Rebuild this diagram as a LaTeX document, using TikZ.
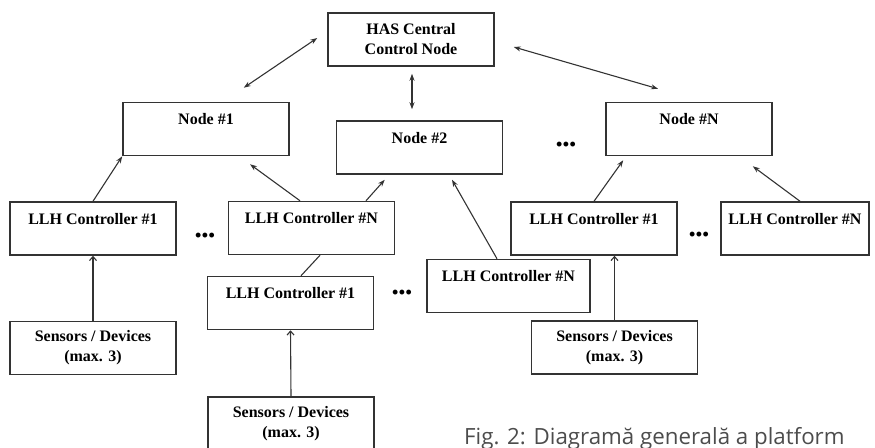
\documentclass[tikz,border=0pt]{standalone}
\usepackage{fontspec}
\setmainfont{Liberation Serif}
\newfontfamily\capfont{Open Sans}
\usetikzlibrary{arrows.meta}
\usetikzlibrary{calc}

\begin{document}
\begin{tikzpicture}%
	[x=1pt,y=-1pt,
	box/.style={draw=black!80,line width=1.5pt,minimum width=166pt,minimum height=53pt,inner sep=0pt,align=center,font=\bfseries\fontsize{16}{20}\selectfont},
	toptext/.style={text height=11pt,text depth=20pt,inner ysep=11pt},
	link/.style={draw=black!80,line width=1.1pt},
	twoway/.style={link,{Stealth[length=7pt,width=5pt]}-{Stealth[length=7pt,width=5pt]}},
	oneway/.style={link,-{Stealth[length=7pt,width=5pt]}},
	barb/.style={link,-{Straight Barb[length=4pt,width=7pt]}},
	dots/.style={font=\bfseries\fontsize{18}{18}\selectfont,inner sep=0pt}]
%
\useasboundingbox (0,0) rectangle (875,447);
\clip (0,0) rectangle (875,447);
%%
%% Central node and nodes
%%
\node[box] (has) at (411,39.5) {HAS Central\\Control Node};
\node[box,toptext] (n1) at (206,129) {Node \#1};
\node[box,toptext] (n2) at (419.5,147.5) {Node \#2};
\node[box,toptext] (nN) at (689,129) {Node \#N};
%%
%% LLH controllers
%%
\node[box,toptext] (c1) at (93,228.5) {LLH Controller \#1};
\node[box,toptext] (cN) at (311.5,228) {LLH Controller \#N};
\node[box,toptext] (m1) at (290.5,303) {LLH Controller \#1};
\node[box,toptext,minimum width=163pt] (mN) at (508.5,286) {LLH Controller \#N};
\node[box,toptext] (r1) at (594,228.5) {LLH Controller \#1};
\node[box,toptext,minimum width=148pt] (rN) at (795,228.5) {LLH Controller \#N};
%%
%% Sensors
%%
\node[box] (s1) at (93,348) {Sensors / Devices\\(max. 3)};
\node[box] (s2) at (291,423.5) {Sensors / Devices\\(max. 3)};
\node[box] (s3) at (614.5,347.5) {Sensors / Devices\\(max. 3)};
%%
%% Dots
%%
\node[dots] (d1) at (205,237) {\textbullet\hspace{0.5pt}\textbullet\hspace{0.5pt}\textbullet};
\node[dots] (d2) at (402,294) {\textbullet\hspace{0.5pt}\textbullet\hspace{0.5pt}\textbullet};
\node[dots] (d3) at (566,146) {\textbullet\hspace{0.5pt}\textbullet\hspace{0.5pt}\textbullet};
\node[dots] (d4) at (699,236) {\textbullet\hspace{0.5pt}\textbullet\hspace{0.5pt}\textbullet};
%%
%% Caption
%%
\node[anchor=base west,inner sep=0pt,text=black!70,font=\capfont\fontsize{22.3}{26}\selectfont] (cap) at (464,444) {Fig. 2: Diagramă generală a platform};
%%
%% Links
%%
\draw[twoway] ($(n1.north east)+(-46,-14)$) -- ($(has.west)+(-10,-1.5)$);
\draw[twoway] ($(has.south)+(1,7)$) -- ($(n2.north)+(-7.5,-11)$);
\draw[twoway] ($(has.east)+(19,7.5)$) -- ($(nN.north)+(-31,-13)$);
\draw[oneway] (c1.north) -- (n1.south west);
\draw[oneway] ($(cN.north)+(-11.5,0)$) -- ($(n1.south)+(44,8)$);
\draw[oneway] ($(cN.north)+(54.5,0)$) -- ($(n2.south west)+(49,5)$);
\draw[link] ($(cN.south)+(8.5,0)$) -- ($(m1.north)+(10.5,0)$);
\draw[oneway] ($(mN.north)+(-11.5,0)$) -- ($(n2.south)+(32.5,5)$);
\draw[oneway] (r1.north) -- ($(nN.south west)+(18,4)$);
\draw[oneway] ($(rN.north)+(5,0)$) -- ($(nN.south east)+(-20,10)$);
\draw[barb] (s1.north) -- (c1.south);
\draw[barb] (s2.north) -- (m1.south);
\draw[barb] (s3.north) -- (s3.north |- r1.south);
%%
\end{tikzpicture}
\end{document}
